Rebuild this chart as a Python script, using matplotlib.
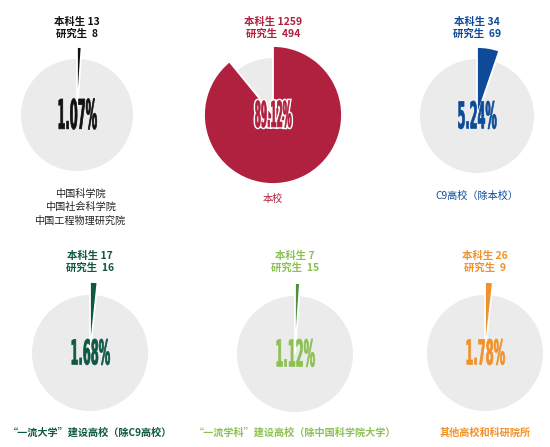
import matplotlib
matplotlib.use("Agg")
import matplotlib.pyplot as plt
from matplotlib.patheffects import AbstractPathEffect
from matplotlib.transforms import Affine2D
from matplotlib.colors import to_rgba

# ---------------- data ----------------
percents = [1.07, 89.12, 5.24, 1.68, 1.12, 1.78]
percent_labels = ["1.07%", "89.12%", "5.24%", "1.68%", "1.12%", "1.78%"]
undergrad = [13, 1259, 34, 17, 7, 26]
graduate = [8, 494, 69, 16, 15, 9]
names = [
    "中国科学院\n中国社会科学院\n中国工程物理研究院",
    "本校",
    "C9高校（除本校）",
    "“一流大学”建设高校（除C9高校）",
    "“一流学科”建设高校（除中国科学院大学）",
    "其他高校和科研院所",
]

# ---------------- style ----------------
text_colors = ["#111111", "#b0213f", "#0d4a98", "#0f5843", "#8cc152", "#f0922b"]
wedge_colors = ["#111111", "#b0213f", "#0d4a98", "#0f5843", "#4f8f3c", "#f0922b"]
name_colors = ["#222222", "#b0213f", "#0d4a98", "#0f5843", "#8cc152", "#f0922b"]
gray = "#ebebeb"
W, H = 550, 447
centers = [(77, 115), (273, 115), (477, 116), (90, 353), (295, 354), (485, 353)]
gray_r = [56, 57, 57, 58, 58, 58]
wedge_r = [68, 69, 69, 71, 71, 71]
num_y = [28, 28, 28, 262, 262, 262]
name_y = [207, 199, 196, 433, 433, 433]
pct_size = [(38, 31), (36, 27), (38, 28), (38, 26), (38, 28), (38, 26)]

plt.rcParams['font.family'] = ['Noto Sans CJK SC', 'DejaVu Sans']


class StretchTo(AbstractPathEffect):
    """Draw text path scaled to a target width/height (condensed look)."""
    def __init__(self, w, h, stroke_color=None, stroke_lw=0.0):
        super().__init__()
        self.w, self.h = w, h
        self.stroke_color = stroke_color
        self.stroke_lw = stroke_lw

    def draw_path(self, renderer, gc, tpath, affine, rgbFace=None):
        bb = tpath.get_extents(affine)
        if bb.width <= 0 or bb.height <= 0:
            renderer.draw_path(gc, tpath, affine, rgbFace)
            return
        cx = bb.x0 + bb.width / 2
        cy = bb.y0 + bb.height / 2
        sx = self.w / bb.width
        sy = self.h / bb.height
        a = affine + Affine2D().translate(-cx, -cy).scale(sx, sy).translate(cx, cy)
        gc0 = renderer.new_gc()
        gc0.copy_properties(gc)
        if self.stroke_color is not None:
            col = to_rgba(self.stroke_color)
        else:
            col = to_rgba(rgbFace) if rgbFace is not None else gc.get_rgb()
        gc0.set_foreground(col)
        gc0.set_linewidth(self.stroke_lw)
        gc0.set_joinstyle('miter')
        renderer.draw_path(gc0, tpath, a, col)
        gc0.restore()


fig = plt.figure(figsize=(W / 100, H / 100), dpi=100)
ax = fig.add_axes([0, 0, 1, 1])

for i, p in enumerate(percents):
    cx, cy = centers[i]
    c = (cx, H - cy)
    ax.pie([1], radius=gray_r[i], center=c, colors=[gray],
           wedgeprops=dict(linewidth=0))
    wedges, _ = ax.pie([p, 100 - p], radius=wedge_r[i], center=c,
                       startangle=90, counterclock=False,
                       colors=[wedge_colors[i], "none"],
                       wedgeprops=dict(edgecolor="white", linewidth=1.3))
    wedges[1].set_visible(False)

    tw, th = pct_size[i]
    effects = []
    if i == 1:
        effects.append(StretchTo(tw, th, stroke_color="white", stroke_lw=2.6))
    effects.append(StretchTo(tw, th, stroke_lw=0.5))
    ax.text(cx, H - cy, percent_labels[i], fontsize=12, fontweight="bold",
            family=["DejaVu Sans"], color=text_colors[i],
            ha="center", va="center", path_effects=effects, zorder=5)

    ax.text(cx, H - num_y[i], f"本科生 {undergrad[i]}\n研究生  {graduate[i]}",
            fontsize=7.5, fontweight="bold", color=text_colors[i],
            ha="center", va="center", linespacing=1.15, zorder=5)

    ax.text(cx + (3 if i == 0 else 0), H - name_y[i], names[i], fontsize=7.3,
            fontweight="bold" if i >= 3 else "medium", color=name_colors[i],
            ha="center", va="center", linespacing=1.4, zorder=5)

ax.set_xlim(0, W)
ax.set_ylim(0, H)
ax.set_aspect("auto")
ax.axis("off")
fig.savefig("out.png", dpi=100, facecolor="white")
